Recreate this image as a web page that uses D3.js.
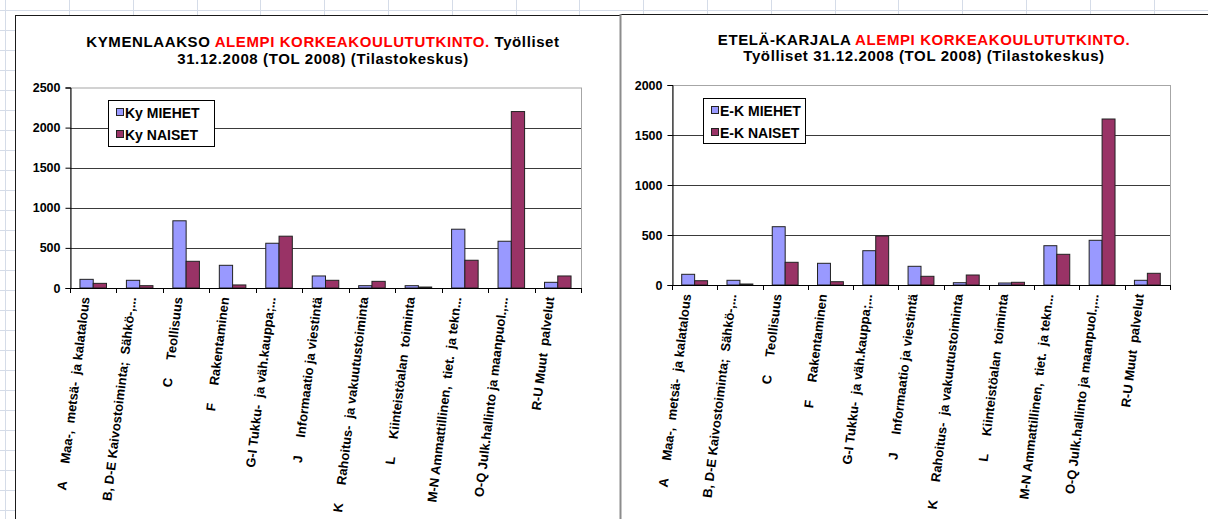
<!DOCTYPE html>
<html><head><meta charset="utf-8">
<script src="https://cdn.jsdelivr.net/npm/d3@7"></script>
<style>
html,body{margin:0;padding:0;background:#fff;}
svg{display:block;font-family:"Liberation Sans",Arial,sans-serif;}
</style></head>
<body>
<svg id="c" width="1208" height="519"></svg>
<script>
// ---- data ----
const categories = [
  "A     Maa-,  metsä-  ja kalatalous",
  "B, D-E Kaivostoiminta;  Sähkö-,...",
  "C     Teollisuus",
  "F     Rakentaminen",
  "G-I Tukku-  ja väh.kauppa;...",
  "J     Informaatio ja viestintä",
  "K     Rahoitus-  ja vakuutustoiminta",
  "L     Kiinteistöalan  toiminta",
  "M-N Ammattillinen,  tiet.  ja tekn...",
  "O-Q Julk.hallinto ja maanpuol.,...",
  "R-U Muut  palvelut"
];
const kyMiehet = [108, 96, 838, 283, 558, 150, 29, 29, 733, 583, 71];
const kyNaiset = [58, 29, 333, 38, 646, 96, 83, 12, 346, 2200, 150];
const ekMiehet = [107, 47, 583, 217, 343, 187, 23, 20, 393, 447, 47];
const ekNaiset = [43, 10, 227, 33, 490, 87, 100, 27, 307, 1660, 117];
const kyTicks = [0, 500, 1000, 1500, 2000, 2500];
const ekTicks = [0, 500, 1000, 1500, 2000];
const kySeries = ["Ky MIEHET", "Ky NAISET"];
const ekSeries = ["E-K MIEHET", "E-K NAISET"];
const colors = ["#9999FF", "#993366"];

const svg = d3.select("#c");

// ---- spreadsheet background grid ----
const bg = svg.append("g").attr("stroke", "#d5dce8").attr("stroke-width", 1);
bg.append("line").attr("x1", 0).attr("x2", 1208).attr("y1", 10.5).attr("y2", 10.5);
d3.range(69, 1208, 63.8).concat([5]).forEach(x => {
  bg.append("line").attr("x1", Math.round(x) + 0.5).attr("x2", Math.round(x) + 0.5).attr("y1", 0).attr("y2", 16);
});
bg.append("line").attr("x1", 5.5).attr("x2", 5.5).attr("y1", 0).attr("y2", 519);
d3.range(10, 519, 20).forEach(y => {
  bg.append("line").attr("x1", 0).attr("x2", 15).attr("y1", y + 0.5).attr("y2", y + 0.5);
});

function drawChart(opt) {
  const g = svg.append("g");
  // frame
  g.append("rect").attr("x", opt.fx).attr("y", opt.fy).attr("width", opt.fw).attr("height", 600)
    .attr("fill", "#fff").attr("stroke", "none");
  g.append("line").attr("x1", opt.fx).attr("x2", opt.fx + opt.fw).attr("y1", opt.fy + 0.5).attr("y2", opt.fy + 0.5)
    .attr("stroke", "#1a1a1a").attr("stroke-width", 1);
  g.append("line").attr("x1", opt.fx + 0.5).attr("x2", opt.fx + 0.5).attr("y1", opt.fy).attr("y2", 519)
    .attr("stroke", opt.leftStroke).attr("stroke-width", opt.leftWidth);

  // title
  const t = g.append("text").attr("text-anchor", "middle").attr("font-weight", "bold")
    .attr("font-size", opt.titleSize).attr("letter-spacing", opt.titleLS).attr("fill", "#000");
  opt.title.forEach(line => {
    const tl = t.append("tspan").attr("x", opt.tx).attr("y", line.y);
    line.parts.forEach(p => tl.append("tspan").attr("fill", p.c).text(p.s));
  });

  const x = d3.scaleBand().domain(categories).range([opt.x0, opt.x1])
    .paddingInner(1.5 / 3.5).paddingOuter(0.75 / 3.5);
  const xs = d3.scaleBand().domain([0, 1]).range([0, x.bandwidth()]);
  const y = d3.scaleLinear().domain([0, opt.max]).range([opt.y0, opt.yTop]);

  // plot border (light)
  g.append("rect").attr("x", opt.x0 + 0.5).attr("y", y(opt.max) + 0.5)
    .attr("width", opt.x1 - opt.x0).attr("height", opt.y0 - y(opt.max))
    .attr("fill", "none").attr("stroke", "#a6a6a6").attr("stroke-width", 1);
  // gridlines
  g.append("g").selectAll("line").data(opt.ticks.filter(d => d > 0 && d < opt.max)).join("line")
    .attr("x1", opt.x0).attr("x2", opt.x1)
    .attr("y1", d => Math.round(y(d)) + 0.5).attr("y2", d => Math.round(y(d)) + 0.5)
    .attr("stroke", "#3a3a3a").attr("stroke-width", 1);

  // bars
  const seriesVals = [opt.s1, opt.s2];
  seriesVals.forEach((vals, si) => {
    g.append("g").selectAll("rect").data(vals).join("rect")
      .attr("x", (d, i) => x(categories[i]) + xs(si))
      .attr("y", d => y(d))
      .attr("width", xs.bandwidth())
      .attr("height", d => opt.y0 - y(d))
      .attr("fill", colors[si]).attr("stroke", "#222").attr("stroke-width", 1);
  });

  // y axis
  const ya = g.append("g").attr("transform", `translate(${opt.x0 + 0.5},0)`)
    .call(d3.axisLeft(y).tickValues(opt.ticks).tickSize(5).tickPadding(5).tickFormat(d3.format("d")));
  ya.select(".domain").attr("stroke", "#000");
  ya.selectAll(".tick line").attr("stroke", "#000");
  ya.selectAll("text").attr("font-size", 12.5).attr("font-weight", "bold")
    .attr("font-family", "'Liberation Sans', Arial, sans-serif").attr("fill", "#000");

  // x axis: baseline + boundary ticks
  const bounds = d3.range(categories.length + 1).map(i => opt.x0 + i * x.step());
  g.append("line").attr("x1", opt.x0).attr("x2", opt.x1).attr("y1", opt.y0 + 0.5).attr("y2", opt.y0 + 0.5)
    .attr("stroke", "#000");
  g.append("g").selectAll("line").data(bounds).join("line")
    .attr("x1", d => Math.round(d) + 0.5).attr("x2", d => Math.round(d) + 0.5)
    .attr("y1", opt.y0).attr("y2", opt.y0 + 5).attr("stroke", "#000");

  // x labels
  g.append("g").selectAll("text").data(categories).join("text")
    .attr("transform", d => `translate(${x(d) + x.bandwidth() / 2 - 8},${opt.y0 + 9}) rotate(-83)`)
    .attr("text-anchor", "end").attr("dy", "0.35em")
    .attr("font-size", 13).attr("font-weight", "bold").attr("fill", "#000")
    .style("white-space", "pre").text(d => d);

  // legend
  const lg = g.append("g");
  lg.append("rect").attr("x", opt.lx + 0.5).attr("y", opt.ly + 0.5).attr("width", opt.lw).attr("height", opt.lh)
    .attr("fill", "#fff").attr("stroke", "#000");
  opt.series.forEach((s, i) => {
    const cy = opt.ly + 13 + i * 22;
    lg.append("rect").attr("x", opt.lx + 8.5).attr("y", cy - 4.5).attr("width", 7).attr("height", 7)
      .attr("fill", colors[i]).attr("stroke", "#222");
    lg.append("text").attr("x", opt.lx + 17).attr("y", cy).attr("dy", "0.35em")
      .attr("font-size", 14).attr("font-weight", "bold").text(s);
  });
}

drawChart({
  fx: 15, fy: 15, fw: 620, leftStroke: "#1a1a1a", leftWidth: 1,
  tx: 323, titleSize: 15, titleLS: 0.6,
  title: [
    { y: 47, parts: [{ s: "KYMENLAAKSO ", c: "#000" }, { s: "ALEMPI KORKEAKOULUTUTKINTO.", c: "#ff0000" }, { s: " Työlliset", c: "#000" }] },
    { y: 64, parts: [{ s: "31.12.2008 (TOL 2008) (Tilastokeskus)", c: "#000" }] }
  ],
  x0: 70, x1: 581, y0: 288, yTop: 87.5, max: 2500, ticks: kyTicks,
  s1: kyMiehet, s2: kyNaiset, series: kySeries,
  lx: 108, ly: 100, lw: 106, lh: 46
});

drawChart({
  fx: 620, fy: 14, fw: 600, leftStroke: "#8c8c8c", leftWidth: 2,
  tx: 924, titleSize: 15, titleLS: 0.6,
  title: [
    { y: 45, parts: [{ s: "ETELÄ-KARJALA ", c: "#000" }, { s: "ALEMPI KORKEAKOULUTUTKINTO.", c: "#ff0000" }] },
    { y: 61, parts: [{ s: "Työlliset 31.12.2008 (TOL 2008) (Tilastokeskus)", c: "#000" }] }
  ],
  x0: 672, x1: 1170, y0: 285, yTop: 85, max: 2000, ticks: ekTicks,
  s1: ekMiehet, s2: ekNaiset, series: ekSeries,
  lx: 703, ly: 98, lw: 102, lh: 45
});
</script>
</body></html>
